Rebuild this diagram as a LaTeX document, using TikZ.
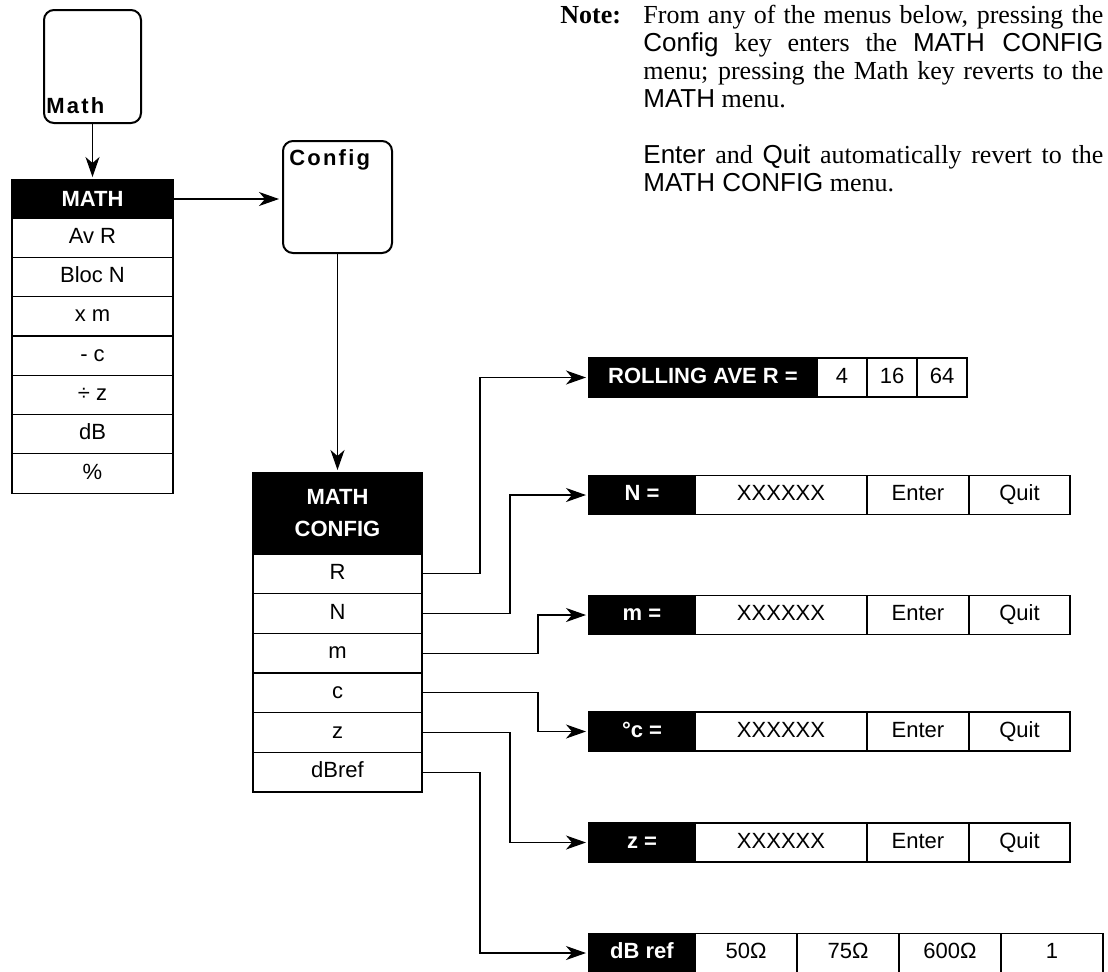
\documentclass[tikz,border=0pt]{standalone}
\usepackage{fontspec}
\setmainfont{Liberation Serif}
\setsansfont{Liberation Sans}
\newfontfamily\keyfont{Liberation Sans}[LetterSpace=10]
\usetikzlibrary{positioning,arrows.meta}

\newcommand{\jline}[1]{\makebox[230pt][s]{#1}}

\begin{document}
\begin{tikzpicture}[
    x=0.5pt, y=-0.5pt,
    font=\sffamily,
    keybox/.style = {
        rectangle,
        draw=black,
        line width=1pt,
        rounded corners=5pt,
        inner sep=0pt
    },
    keylabel/.style = {
        font=\keyfont\bfseries\fontsize{11}{13}\selectfont,
        inner xsep=1.5pt
    },
    menuhead/.style = {
        rectangle,
        draw=black,
        fill=black,
        text=white,
        line width=0.6pt,
        align=center,
        inner sep=0pt,
        outer sep=0pt,
        font=\sffamily\bfseries\fontsize{11}{16}\selectfont
    },
    menuitem/.style = {
        rectangle,
        draw=black,
        fill=white,
        line width=0.6pt,
        inner sep=0pt,
        outer sep=0pt,
        text height=8pt,
        text depth=2.3pt,
        font=\sffamily\fontsize{11}{13}\selectfont
    },
    rowhead/.style = {
        menuhead,
        minimum width=53pt,
        minimum height=19.5pt,
        text height=8pt,
        text depth=2.3pt
    },
    rowcell/.style = {
        menuitem,
        minimum height=19.5pt
    },
    arrow/.style = {
        -{Stealth[length=10pt,width=7pt,inset=3pt]},
        line width=0.6pt,
        draw=black,
        shorten >=1.5pt
    }
]

\useasboundingbox (0,0) rectangle (1108,971);
\fill [white] (0,0) rectangle (1108,971);

% note text
\node (notelbl) [anchor=north west, inner sep=0pt, font=\rmfamily\bfseries\fontsize{13}{14}\selectfont] at (560,3) {\strut Note:};
\node (notebody) [anchor=north west, inner sep=0pt, align=left, font=\rmfamily\fontsize{13}{14}\selectfont] at (643,3) {%
\jline{\strut From any of the menus below, pressing the}\\
\jline{\textsf{Config} key enters the \textsf{MATH CONFIG}}\\
\jline{menu; pressing the Math key reverts to the}\\
\textsf{MATH} menu.\\[14pt]
\jline{\textsf{Enter} and \textsf{Quit} automatically revert to the}\\
\textsf{MATH CONFIG} menu.};

% keys
\node (mathkey) [keybox, minimum width=48.5pt, minimum height=56.5pt,
    label={[keylabel, anchor=south west, inner ysep=5pt]south west:Math}] at (92.5,66.5) {};
\node (cfgkey) [keybox, minimum width=54.5pt, minimum height=56pt,
    label={[keylabel, anchor=north west, inner xsep=3.5pt, inner ysep=4.5pt]north west:Config}] at (337.5,197) {};

% MATH menu
\node (mathhead) [menuhead, minimum width=80.5pt, minimum height=19pt] at (92.5,199) {MATH};
\node (mathavr) [menuitem, minimum width=80.5pt, minimum height=19.65pt, below=0pt of mathhead] {Av R};
\node (mathbloc) [menuitem, minimum width=80.5pt, minimum height=19.65pt, below=0pt of mathavr] {Bloc N};
\node (mathxm) [menuitem, minimum width=80.5pt, minimum height=19.65pt, below=0pt of mathbloc] {x m};
\node (mathc) [menuitem, minimum width=80.5pt, minimum height=19.65pt, below=0pt of mathxm] {- c};
\node (mathz) [menuitem, minimum width=80.5pt, minimum height=19.65pt, below=0pt of mathc] {÷ z};
\node (mathdb) [menuitem, minimum width=80.5pt, minimum height=19.65pt, below=0pt of mathz] {dB};
\node (mathpct) [menuitem, minimum width=80.5pt, minimum height=19.65pt, below=0pt of mathdb] {\%};

% MATH CONFIG menu
\node (cfghead) [menuhead, minimum width=84.5pt, minimum height=40.5pt] at (337.5,513.5) {MATH\\CONFIG};
\node (cfgR) [menuitem, minimum width=84.5pt, minimum height=19.83pt, below=0pt of cfghead] {R};
\node (cfgN) [menuitem, minimum width=84.5pt, minimum height=19.83pt, below=0pt of cfgR] {N};
\node (cfgm) [menuitem, minimum width=84.5pt, minimum height=19.83pt, below=0pt of cfgN] {m};
\node (cfgc) [menuitem, minimum width=84.5pt, minimum height=19.83pt, below=0pt of cfgm] {c};
\node (cfgz) [menuitem, minimum width=84.5pt, minimum height=19.83pt, below=0pt of cfgc] {z};
\node (cfgdb) [menuitem, minimum width=84.5pt, minimum height=19.83pt, below=0pt of cfgz] {dBref};

% entry rows
\node (rolllbl) [rowhead, minimum width=114pt, anchor=west] at (589,377.5) {ROLLING AVE R =};
\node (roll4) [rowcell, minimum width=25pt, right=0pt of rolllbl] {4};
\node (roll16) [rowcell, minimum width=25pt, right=0pt of roll4] {16};
\node (roll64) [rowcell, minimum width=25pt, right=0pt of roll16] {64};

\node (nlbl) [rowhead, anchor=west] at (589,495) {N =};
\node (nval) [rowcell, minimum width=86pt, right=0pt of nlbl] {XXXXXX};
\node (nent) [rowcell, minimum width=51pt, right=0pt of nval] {Enter};
\node (nquit) [rowcell, minimum width=50.5pt, right=0pt of nent] {Quit};

\node (mlbl) [rowhead, anchor=west] at (589,615) {m =};
\node (mval) [rowcell, minimum width=86pt, right=0pt of mlbl] {XXXXXX};
\node (ment) [rowcell, minimum width=51pt, right=0pt of mval] {Enter};
\node (mquit) [rowcell, minimum width=50.5pt, right=0pt of ment] {Quit};

\node (clbl) [rowhead, anchor=west] at (589,731.5) {°c =};
\node (cval) [rowcell, minimum width=86pt, right=0pt of clbl] {XXXXXX};
\node (cent) [rowcell, minimum width=51pt, right=0pt of cval] {Enter};
\node (cquit) [rowcell, minimum width=50.5pt, right=0pt of cent] {Quit};

\node (zlbl) [rowhead, anchor=west] at (589,842.5) {z =};
\node (zval) [rowcell, minimum width=86pt, right=0pt of zlbl] {XXXXXX};
\node (zent) [rowcell, minimum width=51pt, right=0pt of zval] {Enter};
\node (zquit) [rowcell, minimum width=50.5pt, right=0pt of zent] {Quit};

\node (dblbl) [rowhead, anchor=west] at (589,953) {dB ref};
\node (db50) [rowcell, minimum width=51pt, right=0pt of dblbl] {50Ω};
\node (db75) [rowcell, minimum width=51pt, right=0pt of db50] {75Ω};
\node (db600) [rowcell, minimum width=51pt, right=0pt of db75] {600Ω};
\node (dbone) [rowcell, minimum width=51pt, right=0pt of db600] {1};

% connectors
\draw [arrow] (mathkey.south) -- (mathhead.north);
\draw [arrow] (mathhead.east) -- (mathhead.east -| cfgkey.west);
\draw [arrow] (cfgkey.south) -- (cfghead.north);
\draw [arrow] (cfgR.east) -- ++(58,0) |- (rolllbl.west);
\draw [arrow] (cfgN.east) -- ++(88,0) |- (nlbl.west);
\draw [arrow] (cfgm.east) -- ++(116,0) |- (mlbl.west);
\draw [arrow] (cfgc.east) -- ++(116,0) |- (clbl.west);
\draw [arrow] (cfgz.east) -- ++(88,0) |- (zlbl.west);
\draw [arrow] (cfgdb.east) -- ++(58,0) |- (dblbl.west);

\end{tikzpicture}
\end{document}
